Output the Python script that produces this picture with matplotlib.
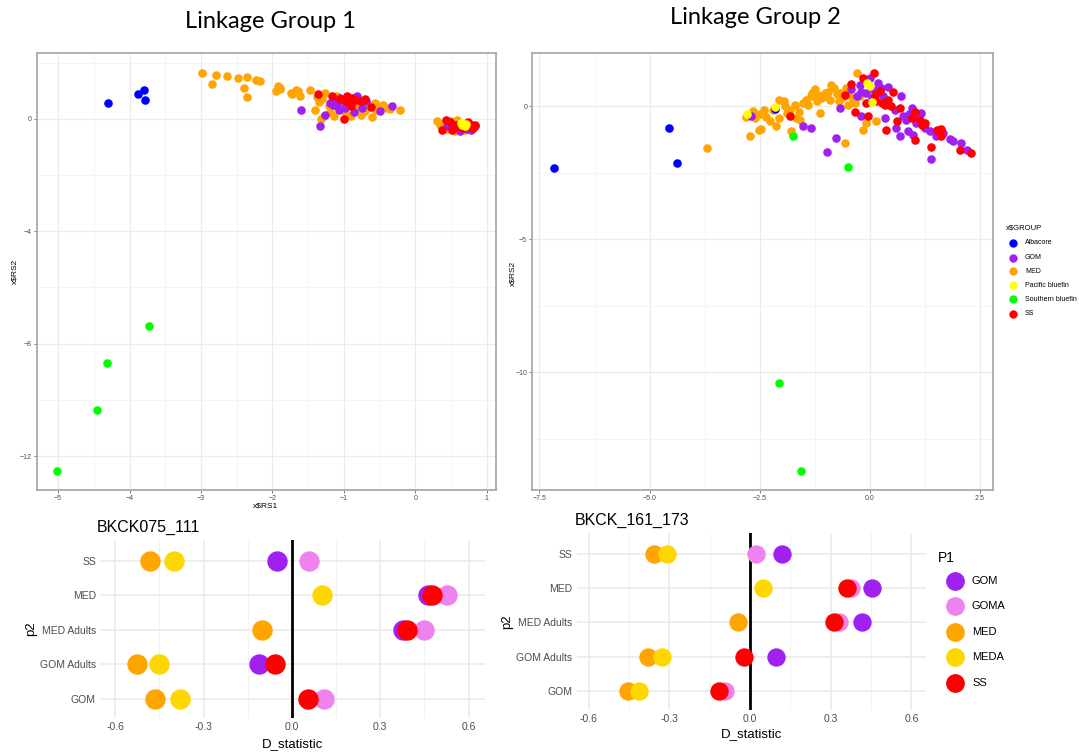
import matplotlib
matplotlib.use("Agg")
import matplotlib.pyplot as plt
from matplotlib.ticker import MultipleLocator
from matplotlib.lines import Line2D
from matplotlib.patches import Rectangle

plt.rcParams["font.family"] = ["Liberation Sans", "DejaVu Sans"]

W, H = 1079, 753

# ---- top scatter data (x$RS1, x$RS2) ----
group_names = ["Albacore", "GOM", "MED", "Pacific bluefin", "Southern bluefin", "SS"]
group_colors = ["#0000FF", "#A020F0", "#FFA500", "#FFFF00", "#00FF00", "#FF0000"]
draw_order = ["MED", "GOM", "SS", "Albacore", "Southern bluefin", "Pacific bluefin"]

lg1_albacore = [(-4.30, 0.56), (-3.88, 0.88), (-3.80, 1.03), (-3.79, 0.66)]
lg1_southern = [(-3.73, -7.38), (-4.31, -8.68), (-4.46, -10.36), (-5.01, -12.52)]
lg1_pacific = [(0.64, -0.14), (0.69, -0.26), (0.66, -0.20), (0.71, -0.18)]
lg1_med = [(-2.99, 1.65), (-2.79, 1.57), (-2.63, 1.53), (-2.48, 1.47), (-2.35, 1.51),
           (-2.23, 1.39), (-2.18, 1.34), (-2.84, 1.25), (-2.40, 1.09), (-2.35, 0.80),
           (-1.92, 1.19), (-1.95, 1.00), (-1.89, 1.07), (-1.72, 0.88), (-1.64, 1.00),
           (-1.61, 0.83), (-1.90, 1.10), (-1.74, 0.93), (-1.67, 1.02), (-1.48, 1.02),
           (-1.38, 0.78), (-1.32, 0.00), (-1.26, 0.93), (-1.41, 0.33), (-1.14, 0.10),
           (-1.10, 0.83), (-1.00, 0.27), (-0.90, 0.10), (-0.76, 0.15), (-0.71, 0.45),
           (-0.57, 0.57), (-0.60, 0.07), (-0.45, 0.51), (-0.40, 0.39), (-0.22, 0.33),
           (-0.55, 0.33), (-1.21, 0.45), (-0.83, 0.57), (-1.30, 0.70), (-0.65, 0.50),
           (-1.35, 0.60), (-1.20, 0.25), (-1.05, 0.55), (-0.85, 0.35), (-0.50, 0.45),
           (-0.35, 0.35), (-1.28, 0.10), (-0.95, 0.15), (-0.70, 0.30), (-1.15, 0.75),
           (0.31, -0.08), (0.50, -0.08), (0.55, -0.44), (0.40, -0.14), (0.60, -0.40),
           (0.35, -0.20), (0.45, -0.35), (0.70, -0.40), (0.58, -0.05)]
lg1_gom = [(-1.60, 0.33), (-1.33, -0.24), (-1.26, 0.15), (-1.19, 0.57), (-1.12, 0.63),
           (-1.07, 0.33), (-0.98, 0.39), (-0.86, 0.24), (-0.81, 0.81), (-0.69, 0.63),
           (-0.50, 0.27), (-0.33, 0.45), (-1.05, 0.75), (-1.15, 0.50), (-1.10, 0.45),
           (-0.92, 0.55), (-0.75, 0.40), (-1.00, 0.65),
           (0.52, -0.32), (0.62, -0.44), (0.83, -0.26), (0.45, -0.26), (0.72, -0.35),
           (0.50, -0.15), (0.78, -0.40), (0.58, -0.28)]
lg1_ss = [(-1.36, 0.90), (-1.17, 0.83), (-1.00, 0.00), (-0.95, 0.81), (-0.95, 0.59),
          (-0.83, 0.69), (-0.76, 0.63), (-0.62, 0.42), (-0.90, 0.45), (-0.88, 0.75),
          (-1.05, 0.70), (-0.70, 0.70),
          (0.38, -0.38), (0.43, -0.05), (0.57, -0.20), (0.74, -0.12), (0.79, -0.20),
          (0.81, -0.32), (0.67, -0.32), (0.60, -0.30), (0.76, -0.28), (0.52, -0.38),
          (0.84, -0.22), (0.48, -0.12)]

lg2_albacore = [(-7.18, -2.31), (-4.55, -0.83), (-4.37, -2.12), (-2.15, -0.11)]
lg2_southern = [(-1.74, -1.10), (-0.49, -2.28), (-2.06, -10.41), (-1.57, -13.70)]
lg2_pacific = [(-2.79, -0.31), (-2.14, -0.03), (-0.06, 0.88), (0.00, 0.75), (0.06, 0.15)]
lg2_med = [(-3.70, -1.57), (-2.73, -1.10), (-2.52, -0.88), (-2.46, -0.86), (-2.65, -0.19),
           (-2.39, -0.13), (-2.27, -0.56), (-2.05, 0.25), (-2.05, -0.44), (-1.93, 0.00),
           (-1.78, -0.94), (-1.82, -0.13), (-1.59, -0.50), (-1.52, 0.13), (-1.33, 0.38),
           (-1.25, 0.63), (-1.14, -0.25), (-1.02, 0.50), (-0.91, 0.25), (-0.80, 0.69),
           (-0.68, 0.50), (-0.53, 0.69), (-0.49, 0.06), (-0.30, 1.25), (-0.15, -0.88),
           (-0.08, -0.63), (0.15, -0.56), (-0.57, -1.38), (-0.34, 0.13), (-0.23, 0.38),
           (-1.40, 0.06), (-2.20, -0.13), (-1.67, -0.44), (-0.87, 0.81), (-1.17, 0.44),
           (-2.12, -0.75), (-2.80, -0.40), (-1.95, 0.20), (-1.10, 0.30), (-0.70, 0.20),
           (-2.50, -0.30), (-2.35, -0.40), (-1.88, -0.25), (-1.70, 0.05), (-1.60, -0.20),
           (-1.45, 0.25), (-1.30, 0.50), (-1.20, 0.20), (-0.95, 0.55), (-0.75, 0.45),
           (-0.60, 0.35), (-0.45, 0.60), (-0.40, 0.30), (-0.98, 0.35), (-2.60, -0.45)]
lg2_gom = [(-2.69, -0.38), (-1.52, -0.75), (-1.33, -0.81), (-0.98, -1.73), (-0.76, -1.19),
           (-0.68, -0.06), (-0.19, -0.38), (-0.42, 0.63), (-0.23, 0.81), (0.00, 1.07),
           (0.19, 0.88), (0.42, 0.73), (0.34, -0.44), (0.68, -1.10), (0.72, 0.38),
           (0.87, -0.94), (0.95, -0.06), (0.98, -1.07), (1.17, -0.25), (1.36, -0.94),
           (1.40, -1.98), (1.67, -1.00), (1.82, -1.23), (2.08, -1.40), (2.20, -1.65),
           (0.83, -0.50), (1.06, -0.63), (0.57, -0.13), (-0.08, 0.50), (-0.30, 0.38),
           (0.30, 0.40), (1.25, -0.80), (0.10, 0.60), (0.90, -0.30), (-0.20, 0.55),
           (0.05, 0.30), (0.25, 0.70), (0.75, -0.35), (1.10, -0.45), (1.50, -1.10),
           (1.90, -1.30), (0.60, -0.80)]
lg2_ss = [(-1.82, -0.35), (-0.57, 0.44), (-0.42, 0.85), (-0.34, -0.23), (-0.15, 1.07),
          (0.09, 1.23), (-0.04, -0.38), (-0.08, 0.13), (0.11, 0.44), (0.23, 0.56),
          (0.27, 0.13), (0.42, 0.25), (0.49, 0.00), (0.53, 0.53), (0.38, -0.88),
          (0.61, -0.56), (1.02, -1.28), (1.02, -0.23), (1.14, -0.50), (1.25, -0.63),
          (1.40, -1.54), (1.52, -0.88), (1.63, -0.85), (1.63, -1.13), (2.05, -1.65),
          (2.31, -1.75), (0.68, -0.06), (0.15, 0.20), (0.35, 0.05), (0.95, -0.45),
          (1.18, -0.70)]

lg1_groups = {"Albacore": lg1_albacore, "GOM": lg1_gom, "MED": lg1_med,
              "Pacific bluefin": lg1_pacific, "Southern bluefin": lg1_southern, "SS": lg1_ss}
lg2_groups = {"Albacore": lg2_albacore, "GOM": lg2_gom, "MED": lg2_med,
              "Pacific bluefin": lg2_pacific, "Southern bluefin": lg2_southern, "SS": lg2_ss}

# ---- bottom dot plots (D statistic) ----
p2_labels = ["GOM", "GOM Adults", "MED Adults", "MED", "SS"]
p1_labels = ["GOM", "GOMA", "MED", "MEDA", "SS"]
p1_colors = ["#A020F0", "#EE82EE", "#FFA500", "#FFD700", "#FF0000"]

bk075_gom = [None, -0.113, 0.377, 0.462, -0.049]
bk075_goma = [0.110, None, 0.450, 0.526, 0.057]
bk075_med = [-0.464, -0.526, -0.102, None, -0.483]
bk075_meda = [-0.379, -0.451, None, 0.102, -0.402]
bk075_ss = [0.053, -0.057, 0.390, 0.475, None]

bk161_gom = [None, 0.097, 0.415, 0.454, 0.118]
bk161_goma = [-0.093, None, 0.332, 0.374, 0.022]
bk161_med = [-0.452, -0.380, -0.046, None, -0.357]
bk161_meda = [-0.411, -0.328, None, 0.048, -0.310]
bk161_ss = [-0.115, -0.021, 0.313, 0.359, None]


def px(x, y):
    return x / W, 1 - y / H


def box(left, top, right, bottom):
    return [left / W, 1 - bottom / H, (right - left) / W, (bottom - top) / H]


def scatter_panel(ax, groups, xlim, ylim, xmaj, ymaj):
    for name in draw_order:
        pts = groups[name]
        col = group_colors[group_names.index(name)]
        ax.scatter([p[0] for p in pts], [p[1] for p in pts], s=38, color=col,
                   linewidths=0, zorder=3)
    ax.set_xlim(xlim)
    ax.set_ylim(ylim)
    ax.xaxis.set_major_locator(MultipleLocator(xmaj))
    ax.xaxis.set_minor_locator(MultipleLocator(xmaj / 2))
    ax.yaxis.set_major_locator(MultipleLocator(ymaj))
    ax.yaxis.set_minor_locator(MultipleLocator(ymaj / 2))
    ax.grid(True, which="major", color="#EBEBEB", lw=0.9)
    ax.grid(True, which="minor", color="#F3F3F3", lw=0.6)
    ax.set_axisbelow(True)
    for s in ax.spines.values():
        s.set_color("#AAAAAA")
        s.set_linewidth(1.3)
    ax.tick_params(which="major", length=2, width=0.6, color="#666666",
                   labelsize=5, labelcolor="#4D4D4D", pad=1.5)
    ax.tick_params(which="minor", length=0)


def dot_panel(ax, series, xlim, size):
    for vals, col in zip(series, p1_colors):
        xs = [v for v in vals if v is not None]
        ys = [i for i, v in enumerate(vals) if v is not None]
        ax.scatter(xs, ys, s=size, color=col, linewidths=0, zorder=3)
    ax.axvline(0, color="black", lw=2, zorder=2)
    ax.set_xlim(xlim)
    ax.set_ylim(-0.55, 4.6)
    ax.set_yticks(range(len(p2_labels)))
    ax.set_yticklabels(p2_labels)
    ax.set_xticks([-0.6, -0.3, 0.0, 0.3, 0.6])
    ax.set_xticklabels(["-0.6", "-0.3", "0.0", "0.3", "0.6"])
    ax.xaxis.set_minor_locator(MultipleLocator(0.15))
    ax.grid(True, which="major", color="#EBEBEB", lw=1.2)
    ax.grid(True, which="minor", axis="x", color="#F2F2F2", lw=0.7)
    ax.set_axisbelow(True)
    for s in ax.spines.values():
        s.set_visible(False)
    ax.tick_params(which="both", length=0, labelsize=7.5, labelcolor="#4D4D4D", pad=3)


fig = plt.figure(figsize=(W / 100, H / 100), dpi=100)

# top left: linkage group 1
ax1 = fig.add_axes(box(36.7, 52.7, 496, 490))
scatter_panel(ax1, lg1_groups, (-5.30, 1.13), (-13.21, 2.36), 1, 4)

# top right: linkage group 2
ax2 = fig.add_axes(box(532, 53, 993, 490))
scatter_panel(ax2, lg2_groups, (-7.67, 2.80), (-14.42, 2.0), 2.5, 5)

fig.text(*px(270, 22), "Linkage Group 1", family="Lato", fontsize=17,
         ha="center", va="center")
fig.text(*px(755, 18), "Linkage Group 2", family="Lato", fontsize=17,
         ha="center", va="center")
fig.text(*px(266, 506), "x$RS1", fontsize=6, ha="center", va="center")
fig.text(*px(15, 271), "x$RS2", fontsize=6, ha="center", va="center", rotation=90)
fig.text(*px(513, 273), "x$RS2", fontsize=6, ha="center", va="center", rotation=90)
fig.text(*px(762, 511), "x$RS1", fontsize=6, ha="center", va="center", zorder=1)
fig.add_artist(Rectangle(px(520, 753), (W - 520) / W, (753 - 508) / H,
                         transform=fig.transFigure, color="white", zorder=2))

# legend for the scatter groups
fig.text(*px(1006, 228), "x$GROUP", fontsize=5.5, ha="left", va="center")
leg_y = [243, 257.7, 271.3, 285.3, 299.3, 313.7]
for name, col, yy in zip(group_names, group_colors, leg_y):
    fig.add_artist(Line2D([1013 / W], [1 - yy / H], marker="o", markersize=6,
                          color=col, markeredgewidth=0, transform=fig.transFigure))
    fig.text(*px(1025, yy), name, fontsize=5, ha="left", va="center")

# bottom left: BKCK075_111
ax3 = fig.add_axes(box(100, 540, 485, 718))
ax3.set_zorder(3)
dot_panel(ax3, [bk075_gom, bk075_goma, bk075_med, bk075_meda, bk075_ss],
          (-0.652, 0.656), 215)
ax3.set_xlabel("D_statistic", fontsize=9.5, labelpad=4)
ax3.set_ylabel("p2", fontsize=9.5, labelpad=2)
fig.text(*px(97, 527), "BKCK075_111", fontsize=11.5, ha="left", va="center", zorder=4)

# bottom right: BKCK_161_173
ax4 = fig.add_axes(box(576.7, 533, 926, 710))
ax4.set_zorder(3)
dot_panel(ax4, [bk161_gom, bk161_goma, bk161_med, bk161_meda, bk161_ss],
          (-0.644, 0.654), 175)
ax4.set_xlabel("D_statistic", fontsize=9.5, labelpad=3)
ax4.set_ylabel("p2", fontsize=9.5, labelpad=2)
fig.text(*px(575, 520), "BKCK_161_173", fontsize=11.5, ha="left", va="center", zorder=4)

# legend for P1
fig.text(*px(938, 558), "P1", fontsize=10, ha="left", va="center", zorder=4)
p1_y = [581, 606, 632, 657, 683]
for name, col, yy in zip(p1_labels, p1_colors, p1_y):
    fig.add_artist(Line2D([955 / W], [1 - yy / H], marker="o", markersize=13.5,
                          color=col, markeredgewidth=0, transform=fig.transFigure,
                          zorder=4))
    fig.text(*px(972, yy), name, fontsize=8, ha="left", va="center", zorder=4)

fig.savefig("out.png", dpi=100)
